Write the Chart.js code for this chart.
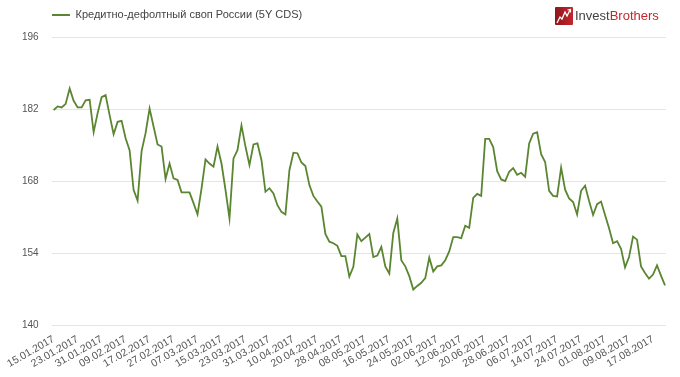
<!DOCTYPE html>
<html><head><meta charset="utf-8">
<script src="https://cdn.jsdelivr.net/npm/chart.js@4.4.1/dist/chart.umd.min.js"></script>
<style>
html,body{margin:0;padding:0;background:#fff;}
#wrap{position:relative;width:680px;height:377px;}
#logo{position:absolute;left:555px;top:6px;height:19px;display:flex;align-items:center;font-family:'Liberation Sans',Arial,sans-serif;font-size:13px;letter-spacing:0;}
#logo svg{margin-right:2px;}
</style></head><body>
<div id="wrap">
<canvas id="c" width="680" height="377"></canvas>
<div id="logo"><svg width="18" height="18" viewBox="0 0 18 18"><defs><linearGradient id="g" x1="0" y1="0" x2="1" y2="0"><stop offset="0" stop-color="#8e161b"/><stop offset="1" stop-color="#c4262d"/></linearGradient></defs><rect x="0" y="0" width="18" height="18" rx="1" fill="url(#g)"/><polyline points="2,16 5,10 7,12 10,5 12,9 15,3" fill="none" stroke="#fff" stroke-width="1.3"/><polyline points="12.5,3 15.5,2.5 15.5,5.5" fill="none" stroke="#fff" stroke-width="1.1"/></svg><span style="color:#444">Invest</span><span style="color:#c0272d">Brothers</span></div>
</div>
<script>
const seriesName = 'Кредитно-дефолтный своп России (5Y CDS)';
const tickLabels = ['15.01.2017','23.01.2017','31.01.2017','09.02.2017','17.02.2017','27.02.2017','07.03.2017','15.03.2017','23.03.2017','31.03.2017','10.04.2017','20.04.2017','28.04.2017','08.05.2017','16.05.2017','24.05.2017','02.06.2017','12.06.2017','20.06.2017','28.06.2017','06.07.2017','14.07.2017','24.07.2017','01.08.2017','09.08.2017','17.08.2017'];
const tickEvery = 6;
const yTicks = [140, 154, 168, 182, 196];
const cdsValues = [
181.8,182.5,182.3,183.0,186.0,183.6,182.3,182.3,183.7,183.8,
177.5,181.2,184.3,184.7,180.8,177.1,179.5,179.7,176.3,174.0,
166.3,164.2,173.8,177.3,182.1,178.6,175.1,174.7,168.4,171.4,
168.5,168.2,165.8,165.8,165.8,163.7,161.5,166.5,172.2,171.4,
170.8,174.7,171.4,166.3,160.7,172.4,174.0,178.8,174.7,171.1,
175.1,175.3,172.1,165.9,166.6,165.6,163.3,162.0,161.5,170.1,
173.5,173.4,171.6,170.9,167.2,165.1,164.0,163.0,157.7,156.2,
155.9,155.4,153.4,153.4,149.4,151.3,157.6,156.3,157.0,157.7,
153.2,153.5,155.2,151.4,150.0,157.9,160.7,152.6,151.4,149.5,
146.9,147.6,148.2,149.1,153.1,150.4,151.4,151.6,152.6,154.3,
157.1,157.1,156.9,159.3,158.9,164.7,165.5,165.1,176.2,176.2,
174.6,169.9,168.3,168.0,169.8,170.5,169.2,169.6,168.8,175.3,
177.2,177.5,173.2,171.7,166.1,165.1,165.0,170.6,166.3,164.6,
163.9,161.5,166.1,167.1,164.1,161.4,163.5,164.0,161.4,158.8,
155.9,156.3,154.8,151.2,153.2,157.2,156.6,151.4,150.1,149.0,
149.8,151.6,149.6,147.7
];

const font = 'Liberation Sans, Arial, sans-serif';
const lineColor = '#5a8531';

const legendShift = {
  id: 'legendShift',
  afterLayout(chart) {
    if (chart.legend) { chart.legend.left = 43.5; chart.legend.top = 1; }
  }
};

new Chart(document.getElementById('c'), {
  type: 'line',
  data: {
    datasets: [{
      label: seriesName,
      data: cdsValues.map((v, i) => ({x: i, y: v})),
      borderColor: lineColor,
      backgroundColor: lineColor,
      borderWidth: 1.8,
      pointRadius: 0,
      tension: 0
    }]
  },
  plugins: [legendShift],
  options: {
    responsive: false,
    animation: false,
    layout: {padding: {left: 0, right: 14, top: 0, bottom: 0}},
    plugins: {
      tooltip: {enabled: false},
      legend: {
        display: true,
        position: 'top',
        align: 'start',
        labels: {
          usePointStyle: true,
          pointStyle: 'line',
          pointStyleWidth: 18,
          padding: 8.5,
          color: '#444',
          font: {family: font, size: 11}
        }
      }
    },
    scales: {
      x: {
        type: 'linear',
        min: -0.5,
        max: cdsValues.length - 0.75,
        grid: {display: false, drawTicks: false},
        border: {display: false},
        afterBuildTicks: (s) => { s.ticks = tickLabels.map((_, k) => ({value: k * tickEvery})); },
        afterFit: (s) => { s.height = 52; },
        ticks: {
          autoSkip: false,
          minRotation: 30,
          maxRotation: 30,
          padding: 8,
          color: '#555',
          font: {family: font, size: 10.5},
          callback: (v) => tickLabels[Math.round(v / tickEvery)]
        }
      },
      y: {
        min: 140,
        max: 196,
        grid: {color: '#e4e4e4', lineWidth: 1, drawTicks: false},
        border: {display: false},
        afterBuildTicks: (s) => { s.ticks = yTicks.map(v => ({value: v})); },
        afterFit: (s) => { s.width = 51; s.paddingTop = 37; },
        ticks: {
          padding: 13,
          color: '#555',
          font: {family: font, size: 10}
        }
      }
    }
  }
});
</script>
</body></html>
